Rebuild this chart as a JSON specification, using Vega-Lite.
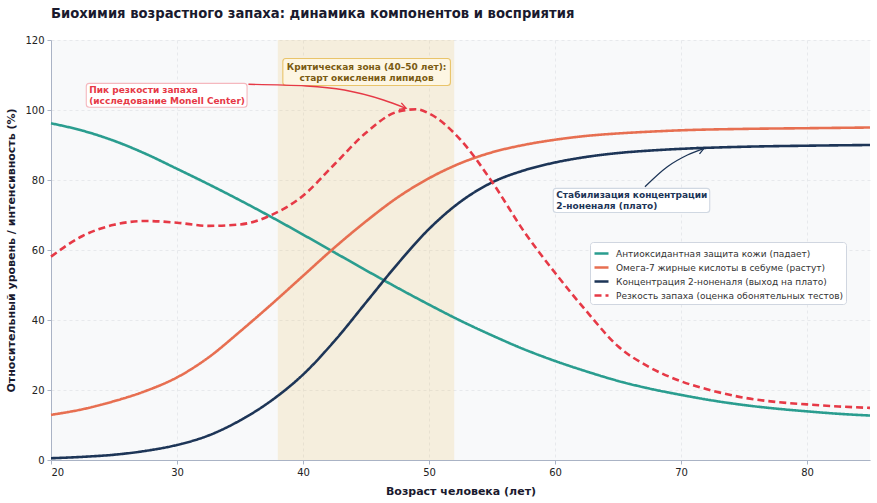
{
  "$schema": "https://vega.github.io/schema/vega-lite/v6.json",
  "width": 819,
  "height": 420,
  "autosize": {"type": "none"},
  "padding": {"left": 51, "top": 40, "right": 7, "bottom": 43},
  "background": "white",
  "config": {
    "font": "DejaVu Sans",
    "view": {"fill": "#f8f9fa", "stroke": null},
    "axis": {
      "labelFont": "DejaVu Sans",
      "labelFontSize": 10,
      "labelColor": "#222",
      "titleFont": "DejaVu Sans",
      "titleFontSize": 11,
      "titleFontWeight": "bold",
      "titleColor": "#1a1a2e",
      "domainColor": "#aab3c5",
      "tickColor": "#aab3c5",
      "tickSize": 4,
      "gridColor": "#e2e4e8",
      "gridDash": [3, 3],
      "gridWidth": 0.8
    }
  },
  "title": {
    "text": "Биохимия возрастного запаха: динамика компонентов и восприятия",
    "anchor": "start",
    "frame": "group",
    "fontSize": 13.2,
    "fontWeight": "bold",
    "color": "#1a1a2e",
    "offset": 14
  },
  "layer": [
    {
      "data": {"values": [{"start": 38, "end": 52}]},
      "mark": {"type": "rect", "color": "#e9c46a", "opacity": 0.2},
      "encoding": {
        "x": {"field": "start", "type": "quantitative", "scale": {"domain": [20, 85], "nice": false}},
        "x2": {"field": "end"}
      }
    },
    {
      "data": {"name": "curves", "values": [
        {"age": 20, "value": 96.2, "series": "Антиоксидантная защита кожи (падает)"},
        {"age": 22.5, "value": 94.1, "series": "Антиоксидантная защита кожи (падает)"},
        {"age": 25, "value": 91.2, "series": "Антиоксидантная защита кожи (падает)"},
        {"age": 27.5, "value": 87.5, "series": "Антиоксидантная защита кожи (падает)"},
        {"age": 30, "value": 83.2, "series": "Антиоксидантная защита кожи (падает)"},
        {"age": 32.5, "value": 78.8, "series": "Антиоксидантная защита кожи (падает)"},
        {"age": 35, "value": 74.2, "series": "Антиоксидантная защита кожи (падает)"},
        {"age": 37.5, "value": 69.4, "series": "Антиоксидантная защита кожи (падает)"},
        {"age": 40, "value": 64.4, "series": "Антиоксидантная защита кожи (падает)"},
        {"age": 42.5, "value": 59.3, "series": "Антиоксидантная защита кожи (падает)"},
        {"age": 45, "value": 54.2, "series": "Антиоксидантная защита кожи (падает)"},
        {"age": 47.5, "value": 49.2, "series": "Антиоксидантная защита кожи (падает)"},
        {"age": 50, "value": 44.4, "series": "Антиоксидантная защита кожи (падает)"},
        {"age": 52.5, "value": 39.8, "series": "Антиоксидантная защита кожи (падает)"},
        {"age": 55, "value": 35.6, "series": "Антиоксидантная защита кожи (падает)"},
        {"age": 57.5, "value": 31.7, "series": "Антиоксидантная защита кожи (падает)"},
        {"age": 60, "value": 28.3, "series": "Антиоксидантная защита кожи (падает)"},
        {"age": 62.5, "value": 25.3, "series": "Антиоксидантная защита кожи (падает)"},
        {"age": 65, "value": 22.6, "series": "Антиоксидантная защита кожи (падает)"},
        {"age": 67.5, "value": 20.4, "series": "Антиоксидантная защита кожи (падает)"},
        {"age": 70, "value": 18.6, "series": "Антиоксидантная защита кожи (падает)"},
        {"age": 72.5, "value": 17.0, "series": "Антиоксидантная защита кожи (падает)"},
        {"age": 75, "value": 15.7, "series": "Антиоксидантная защита кожи (падает)"},
        {"age": 77.5, "value": 14.7, "series": "Антиоксидантная защита кожи (падает)"},
        {"age": 80, "value": 13.9, "series": "Антиоксидантная защита кожи (падает)"},
        {"age": 82.5, "value": 13.2, "series": "Антиоксидантная защита кожи (падает)"},
        {"age": 85, "value": 12.7, "series": "Антиоксидантная защита кожи (падает)"},

        {"age": 20, "value": 12.9, "series": "Омега-7 жирные кислоты в себуме (растут)"},
        {"age": 22.5, "value": 14.5, "series": "Омега-7 жирные кислоты в себуме (растут)"},
        {"age": 25, "value": 16.8, "series": "Омега-7 жирные кислоты в себуме (растут)"},
        {"age": 27.5, "value": 19.7, "series": "Омега-7 жирные кислоты в себуме (растут)"},
        {"age": 30, "value": 23.6, "series": "Омега-7 жирные кислоты в себуме (растут)"},
        {"age": 32.5, "value": 29.3, "series": "Омега-7 жирные кислоты в себуме (растут)"},
        {"age": 35, "value": 36.7, "series": "Омега-7 жирные кислоты в себуме (растут)"},
        {"age": 37.5, "value": 44.5, "series": "Омега-7 жирные кислоты в себуме (растут)"},
        {"age": 40, "value": 52.6, "series": "Омега-7 жирные кислоты в себуме (растут)"},
        {"age": 42.5, "value": 60.7, "series": "Омега-7 жирные кислоты в себуме (растут)"},
        {"age": 45, "value": 68.2, "series": "Омега-7 жирные кислоты в себуме (растут)"},
        {"age": 47.5, "value": 75.0, "series": "Омега-7 жирные кислоты в себуме (растут)"},
        {"age": 50, "value": 80.5, "series": "Омега-7 жирные кислоты в себуме (растут)"},
        {"age": 52.5, "value": 84.8, "series": "Омега-7 жирные кислоты в себуме (растут)"},
        {"age": 55, "value": 87.9, "series": "Омега-7 жирные кислоты в себуме (растут)"},
        {"age": 57.5, "value": 90.0, "series": "Омега-7 жирные кислоты в себуме (растут)"},
        {"age": 60, "value": 91.5, "series": "Омега-7 жирные кислоты в себуме (растут)"},
        {"age": 62.5, "value": 92.6, "series": "Омега-7 жирные кислоты в себуме (растут)"},
        {"age": 65, "value": 93.3, "series": "Омега-7 жирные кислоты в себуме (растут)"},
        {"age": 67.5, "value": 93.8, "series": "Омега-7 жирные кислоты в себуме (растут)"},
        {"age": 70, "value": 94.2, "series": "Омега-7 жирные кислоты в себуме (растут)"},
        {"age": 75, "value": 94.6, "series": "Омега-7 жирные кислоты в себуме (растут)"},
        {"age": 80, "value": 94.8, "series": "Омега-7 жирные кислоты в себуме (растут)"},
        {"age": 85, "value": 95.0, "series": "Омега-7 жирные кислоты в себуме (растут)"},

        {"age": 20, "value": 0.5, "series": "Концентрация 2-ноненаля (выход на плато)"},
        {"age": 22.5, "value": 0.9, "series": "Концентрация 2-ноненаля (выход на плато)"},
        {"age": 25, "value": 1.5, "series": "Концентрация 2-ноненаля (выход на плато)"},
        {"age": 27.5, "value": 2.6, "series": "Концентрация 2-ноненаля (выход на плато)"},
        {"age": 30, "value": 4.3, "series": "Концентрация 2-ноненаля (выход на плато)"},
        {"age": 32.5, "value": 7.0, "series": "Концентрация 2-ноненаля (выход на плато)"},
        {"age": 35, "value": 11.3, "series": "Концентрация 2-ноненаля (выход на плато)"},
        {"age": 37.5, "value": 17.0, "series": "Концентрация 2-ноненаля (выход на плато)"},
        {"age": 40, "value": 24.4, "series": "Концентрация 2-ноненаля (выход на плато)"},
        {"age": 42.5, "value": 34.0, "series": "Концентрация 2-ноненаля (выход на плато)"},
        {"age": 45, "value": 45.0, "series": "Концентрация 2-ноненаля (выход на плато)"},
        {"age": 47.5, "value": 56.0, "series": "Концентрация 2-ноненаля (выход на плато)"},
        {"age": 50, "value": 66.0, "series": "Концентрация 2-ноненаля (выход на плато)"},
        {"age": 52.5, "value": 73.8, "series": "Концентрация 2-ноненаля (выход на плато)"},
        {"age": 55, "value": 79.3, "series": "Концентрация 2-ноненаля (выход на плато)"},
        {"age": 57.5, "value": 82.7, "series": "Концентрация 2-ноненаля (выход на плато)"},
        {"age": 60, "value": 85.0, "series": "Концентрация 2-ноненаля (выход на плато)"},
        {"age": 62.5, "value": 86.6, "series": "Концентрация 2-ноненаля (выход на плато)"},
        {"age": 65, "value": 87.7, "series": "Концентрация 2-ноненаля (выход на плато)"},
        {"age": 67.5, "value": 88.4, "series": "Концентрация 2-ноненаля (выход на плато)"},
        {"age": 70, "value": 88.9, "series": "Концентрация 2-ноненаля (выход на плато)"},
        {"age": 75, "value": 89.5, "series": "Концентрация 2-ноненаля (выход на плато)"},
        {"age": 80, "value": 89.8, "series": "Концентрация 2-ноненаля (выход на плато)"},
        {"age": 85, "value": 90.0, "series": "Концентрация 2-ноненаля (выход на плато)"},

        {"age": 20, "value": 58.1, "series": "Резкость запаха (оценка обонятельных тестов)"},
        {"age": 22.5, "value": 64.0, "series": "Резкость запаха (оценка обонятельных тестов)"},
        {"age": 25, "value": 67.2, "series": "Резкость запаха (оценка обонятельных тестов)"},
        {"age": 27.5, "value": 68.3, "series": "Резкость запаха (оценка обонятельных тестов)"},
        {"age": 30, "value": 67.8, "series": "Резкость запаха (оценка обонятельных тестов)"},
        {"age": 32.5, "value": 66.9, "series": "Резкость запаха (оценка обонятельных тестов)"},
        {"age": 35, "value": 67.3, "series": "Резкость запаха (оценка обонятельных тестов)"},
        {"age": 37.5, "value": 70.0, "series": "Резкость запаха (оценка обонятельных тестов)"},
        {"age": 40, "value": 75.5, "series": "Резкость запаха (оценка обонятельных тестов)"},
        {"age": 42.5, "value": 84.5, "series": "Резкость запаха (оценка обонятельных тестов)"},
        {"age": 45, "value": 93.5, "series": "Резкость запаха (оценка обонятельных тестов)"},
        {"age": 47.5, "value": 99.5, "series": "Резкость запаха (оценка обонятельных тестов)"},
        {"age": 49, "value": 100.2, "series": "Резкость запаха (оценка обонятельных тестов)"},
        {"age": 50, "value": 99.0, "series": "Резкость запаха (оценка обонятельных тестов)"},
        {"age": 52.5, "value": 91.5, "series": "Резкость запаха (оценка обонятельных тестов)"},
        {"age": 55, "value": 79.5, "series": "Резкость запаха (оценка обонятельных тестов)"},
        {"age": 57.5, "value": 65.5, "series": "Резкость запаха (оценка обонятельных тестов)"},
        {"age": 60, "value": 53.5, "series": "Резкость запаха (оценка обонятельных тестов)"},
        {"age": 62.5, "value": 42.5, "series": "Резкость запаха (оценка обонятельных тестов)"},
        {"age": 65, "value": 32.5, "series": "Резкость запаха (оценка обонятельных тестов)"},
        {"age": 67.5, "value": 26.5, "series": "Резкость запаха (оценка обонятельных тестов)"},
        {"age": 70, "value": 22.5, "series": "Резкость запаха (оценка обонятельных тестов)"},
        {"age": 72.5, "value": 19.8, "series": "Резкость запаха (оценка обонятельных тестов)"},
        {"age": 75, "value": 17.8, "series": "Резкость запаха (оценка обонятельных тестов)"},
        {"age": 77.5, "value": 16.6, "series": "Резкость запаха (оценка обонятельных тестов)"},
        {"age": 80, "value": 15.9, "series": "Резкость запаха (оценка обонятельных тестов)"},
        {"age": 82.5, "value": 15.3, "series": "Резкость запаха (оценка обонятельных тестов)"},
        {"age": 85, "value": 14.9, "series": "Резкость запаха (оценка обонятельных тестов)"}
      ]},
      "mark": {"type": "line", "interpolate": "monotone"},
      "encoding": {
        "x": {
          "field": "age", "type": "quantitative",
          "scale": {"domain": [20, 85], "nice": false},
          "axis": {"values": [20, 30, 40, 50, 60, 70, 80], "title": "Возраст человека (лет)", "titlePadding": 8, "labelPadding": 3}
        },
        "y": {
          "field": "value", "type": "quantitative",
          "scale": {"domain": [0, 120], "nice": false},
          "axis": {"values": [0, 20, 40, 60, 80, 100, 120], "title": "Относительный уровень / интенсивность (%)", "titlePadding": 8, "labelPadding": 3}
        },
        "color": {
          "field": "series", "type": "nominal",
          "scale": {
            "domain": ["Антиоксидантная защита кожи (падает)", "Омега-7 жирные кислоты в себуме (растут)", "Концентрация 2-ноненаля (выход на плато)", "Резкость запаха (оценка обонятельных тестов)"],
            "range": ["#2a9d8f", "#e76f51", "#1d3557", "#e63946"]
          },
          "legend": {
            "title": null,
            "orient": "none",
            "legendX": 539,
            "legendY": 202,
            "fillColor": "white",
            "strokeColor": "#d0d6e0",
            "cornerRadius": 3,
            "padding": 3,
            "labelFontSize": 9,
            "labelColor": "#333",
            "labelLimit": 400,
            "labelOffset": 6,
            "symbolType": "stroke",
            "symbolSize": 196,
            "rowPadding": 0
          }
        },
        "strokeDash": {
          "field": "series", "type": "nominal",
          "scale": {
            "domain": ["Антиоксидантная защита кожи (падает)", "Омега-7 жирные кислоты в себуме (растут)", "Концентрация 2-ноненаля (выход на плато)", "Резкость запаха (оценка обонятельных тестов)"],
            "range": [[1, 0], [1, 0], [1, 0], [7, 4]]
          },
          "legend": null
        },
        "strokeWidth": {
          "field": "series", "type": "nominal",
          "scale": {
            "domain": ["Антиоксидантная защита кожи (падает)", "Омега-7 жирные кислоты в себуме (растут)", "Концентрация 2-ноненаля (выход на плато)", "Резкость запаха (оценка обонятельных тестов)"],
            "range": [2.6, 2.6, 3.4, 2.6]
          },
          "legend": null
        }
      }
    },
    {
      "data": {"values": [
        {"x": 38.4, "x2": 51.7, "y": 107.0, "y2": 114.7, "box": "zone"},
        {"x": 22.8, "x2": 35.56, "y": 100.8, "y2": 107.6, "box": "peak"},
        {"x": 59.86, "x2": 72.28, "y": 70.7, "y2": 77.6, "box": "plateau"}
      ]},
      "mark": {"type": "rect", "cornerRadius": 3, "strokeWidth": 1.1},
      "encoding": {
        "x": {"field": "x", "type": "quantitative"},
        "x2": {"field": "x2"},
        "y": {"field": "y", "type": "quantitative"},
        "y2": {"field": "y2"},
        "fill": {"field": "box", "type": "nominal", "scale": {"domain": ["zone", "peak", "plateau"], "range": ["#fdf6e3", "#ffffff", "#ffffff"]}, "legend": null},
        "stroke": {"field": "box", "type": "nominal", "scale": {"domain": ["zone", "peak", "plateau"], "range": ["#e9c46a", "#f5b8be", "#d0d8e2"]}, "legend": null}
      }
    },
    {
      "data": {"values": [
        {"age": 35.67, "value": 107.34},
        {"age": 40.26, "value": 106.86},
        {"age": 43.28, "value": 105.71},
        {"age": 46.38, "value": 102.86},
        {"age": 48.18, "value": 100.49}
      ]},
      "mark": {"type": "line", "interpolate": "monotone", "color": "#e63946", "strokeWidth": 1.4},
      "encoding": {
        "x": {"field": "age", "type": "quantitative"},
        "y": {"field": "value", "type": "quantitative"}
      }
    },
    {
      "data": {"values": [{"age": 48.18, "value": 100.49}]},
      "mark": {"type": "point", "shape": "M-1,-0.55L0,0L-1,0.55", "filled": false, "color": "#e63946", "strokeWidth": 1.4, "size": 160, "angle": 20, "opacity": 1},
      "encoding": {
        "x": {"field": "age", "type": "quantitative"},
        "y": {"field": "value", "type": "quantitative"}
      }
    },
    {
      "data": {"values": [
        {"age": 67.14, "value": 78.09},
        {"age": 68.92, "value": 83.8},
        {"age": 70.51, "value": 87.14},
        {"age": 71.83, "value": 89.06}
      ]},
      "mark": {"type": "line", "interpolate": "monotone", "color": "#1d3557", "strokeWidth": 1.3},
      "encoding": {
        "x": {"field": "age", "type": "quantitative"},
        "y": {"field": "value", "type": "quantitative"}
      }
    },
    {
      "data": {"values": [{"age": 71.83, "value": 89.06}]},
      "mark": {"type": "point", "shape": "M-1,-0.55L0,0L-1,0.55", "filled": false, "color": "#1d3557", "strokeWidth": 1.3, "size": 160, "angle": -22, "opacity": 1},
      "encoding": {
        "x": {"field": "age", "type": "quantitative"},
        "y": {"field": "value", "type": "quantitative"}
      }
    },
    {
      "data": {"values": [{"age": 45.05, "value": 112.37, "label": "Критическая зона (40–50 лет):\nстарт окисления липидов"}]},
      "mark": {"type": "text", "lineBreak": "\n", "align": "center", "baseline": "middle", "fontSize": 9, "fontWeight": "bold", "color": "#7a5b12", "lineHeight": 11},
      "encoding": {
        "x": {"field": "age", "type": "quantitative"},
        "y": {"field": "value", "type": "quantitative"},
        "text": {"field": "label"}
      }
    },
    {
      "data": {"values": [{"age": 23.03, "value": 105.63, "label": "Пик резкости запаха\n(исследование Monell Center)"}]},
      "mark": {"type": "text", "lineBreak": "\n", "align": "left", "baseline": "middle", "fontSize": 9, "fontWeight": "bold", "color": "#e63946", "lineHeight": 11},
      "encoding": {
        "x": {"field": "age", "type": "quantitative"},
        "y": {"field": "value", "type": "quantitative"},
        "text": {"field": "label"}
      }
    },
    {
      "data": {"values": [{"age": 60.1, "value": 75.71, "label": "Стабилизация концентрации\n2-ноненаля (плато)"}]},
      "mark": {"type": "text", "lineBreak": "\n", "align": "left", "baseline": "middle", "fontSize": 9, "fontWeight": "bold", "color": "#1d3557", "lineHeight": 11},
      "encoding": {
        "x": {"field": "age", "type": "quantitative"},
        "y": {"field": "value", "type": "quantitative"},
        "text": {"field": "label"}
      }
    }
  ],
  "resolve": {"scale": {"fill": "independent", "stroke": "independent"}}
}
